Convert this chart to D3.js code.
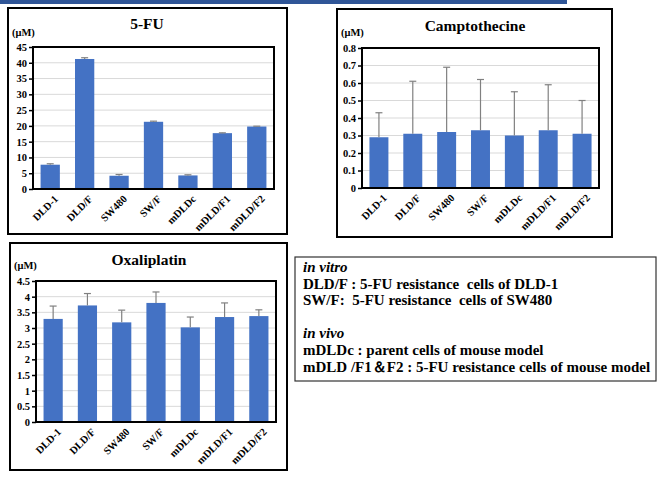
<!DOCTYPE html>
<html>
<head>
<meta charset="utf-8">
<script src="https://cdn.jsdelivr.net/npm/d3@7"></script>
<style>
  body { margin: 0; background: #fff; }
  svg { display: block; font-family: "Liberation Serif", "Times New Roman", serif; }
</style>
</head>
<body>
<div id="chart"></div>
<script>
// Cell lines shared by all three panels
const cells = ["DLD-1", "DLD/F", "SW480", "SW/F", "mDLDc", "mDLD/F1", "mDLD/F2"];

// IC50 values (µM) and error bars
const fuMean = [7.7, 41.2, 4.2, 21.3, 4.3, 17.7, 19.8];
const fuErr = [0.3, 0.4, 0.4, 0.2, 0.2, 0.1, 0.1];
const fuTicks = [0, 5, 10, 15, 20, 25, 30, 35, 40, 45];

const cptMean = [0.29, 0.31, 0.32, 0.33, 0.30, 0.33, 0.31];
const cptErr = [0.14, 0.30, 0.37, 0.29, 0.25, 0.26, 0.19];
const cptTicks = [0, 0.1, 0.2, 0.3, 0.4, 0.5, 0.6, 0.7, 0.8];

const oxaMean = [3.29, 3.72, 3.18, 3.80, 3.02, 3.35, 3.38];
const oxaErr = [0.41, 0.38, 0.39, 0.35, 0.33, 0.45, 0.20];
const oxaTicks = [0, 0.5, 1, 1.5, 2, 2.5, 3, 3.5, 4, 4.5];

// legend notes
const notes = [
    { text: "in vitro", italic: true },
    { text: "DLD/F : 5-FU resistance  cells of DLD-1" },
    { text: "SW/F:  5-FU resistance  cells of SW480" },
    { text: "" },
    { text: "in vivo", italic: true },
    { text: "mDLDc : parent cells of mouse model" },
    { text: "mDLD /F1\uFF06F2 : 5-FU resistance cells of mouse model" }
];

const width = 658, height = 478;
const barColor = "#4472c4";

const svg = d3.select("#chart")
    .append("svg")
    .attr("width", width)
    .attr("height", height);

// blue banner line at the very top
svg.append("rect")
    .attr("x", 0).attr("y", 0)
    .attr("width", 567).attr("height", 4)
    .attr("fill", "#2f5597");

function drawPanel(p) {
    const g = svg.append("g");

    // panel frame
    g.append("rect")
        .attr("x", p.box[0]).attr("y", p.box[1])
        .attr("width", p.box[2]).attr("height", p.box[3])
        .attr("fill", "#fff")
        .attr("stroke", "#000")
        .attr("stroke-width", 2);

    const xScale = d3.scaleBand()
        .domain(cells)
        .range([p.plot.left, p.plot.right])
        .paddingInner(0.44)
        .paddingOuter(0.22);

    const yScale = d3.scaleLinear()
        .domain([0, p.max])
        .range([p.plot.bottom, p.plot.top]);

    // gridlines
    g.append("g")
        .selectAll("line")
        .data(p.ticks.slice(1))
        .enter()
        .append("line")
        .attr("x1", p.plot.left)
        .attr("x2", p.plot.right)
        .attr("y1", d => yScale(d))
        .attr("y2", d => yScale(d))
        .attr("stroke", "#d9d9d9")
        .attr("stroke-width", 1);

    const rows = cells.map((c, i) => ({ cell: c, mean: p.mean[i], err: p.err[i] }));

    // bars
    g.append("g")
        .selectAll("rect")
        .data(rows)
        .enter()
        .append("rect")
        .attr("x", d => xScale(d.cell))
        .attr("y", d => yScale(d.mean))
        .attr("width", xScale.bandwidth())
        .attr("height", d => p.plot.bottom - yScale(d.mean))
        .attr("fill", barColor);

    // error bars (plus direction only)
    const eb = g.append("g")
        .attr("stroke", "#808080")
        .attr("stroke-width", 1.2);
    eb.selectAll("line.v")
        .data(rows)
        .enter()
        .append("line")
        .attr("class", "v")
        .attr("x1", d => xScale(d.cell) + xScale.bandwidth() / 2)
        .attr("x2", d => xScale(d.cell) + xScale.bandwidth() / 2)
        .attr("y1", d => yScale(d.mean))
        .attr("y2", d => yScale(d.mean + d.err));
    eb.selectAll("line.cap")
        .data(rows)
        .enter()
        .append("line")
        .attr("class", "cap")
        .attr("x1", d => xScale(d.cell) + xScale.bandwidth() / 2 - 3.5)
        .attr("x2", d => xScale(d.cell) + xScale.bandwidth() / 2 + 3.5)
        .attr("y1", d => yScale(d.mean + d.err))
        .attr("y2", d => yScale(d.mean + d.err));

    // plot area frame
    g.append("rect")
        .attr("x", p.plot.left).attr("y", p.plot.top)
        .attr("width", p.plot.right - p.plot.left)
        .attr("height", p.plot.bottom - p.plot.top)
        .attr("fill", "none")
        .attr("stroke", "#000")
        .attr("stroke-width", 2);

    // y axis
    const yAxis = g.append("g")
        .attr("transform", `translate(${p.plot.left},0)`)
        .call(d3.axisLeft(yScale).tickValues(p.ticks).tickSize(4).tickFormat(d => String(d)))
        .attr("font-family", "Liberation Serif, serif")
        .attr("font-size", 10.5)
        .attr("font-weight", "bold");
    yAxis.select(".domain").remove();
    yAxis.selectAll("line").attr("stroke", "#000").attr("stroke-width", 1.5);
    yAxis.selectAll("text")
        .attr("x", -6)
        .attr("fill", "#000");

    // x axis with rotated category labels
    const xAxis = g.append("g")
        .attr("transform", `translate(0,${p.plot.bottom})`)
        .call(d3.axisBottom(xScale).tickSize(0))
        .attr("font-family", "Liberation Serif, serif")
        .attr("font-size", 10.5)
        .attr("font-weight", "bold");
    xAxis.select(".domain").remove();
    xAxis.selectAll("text")
        .attr("transform", "translate(6,8) rotate(-45)")
        .attr("x", 0).attr("y", 0).attr("dy", "0.35em")
        .style("text-anchor", "end")
        .attr("fill", "#000");

    // title
    g.append("text")
        .attr("x", p.titleX)
        .attr("y", p.titleY)
        .style("text-anchor", "middle")
        .style("font-size", "15.5px")
        .style("font-weight", "bold")
        .text(p.title);

    // unit label
    g.append("text")
        .attr("x", p.unitX)
        .attr("y", p.unitY)
        .style("font-size", "10.5px")
        .style("font-weight", "bold")
        .text("(\u03BCM)");
}

drawPanel({
    title: "5-FU", mean: fuMean, err: fuErr, ticks: fuTicks, max: 45,
    box: [8, 8, 279, 226],
    plot: { left: 33, right: 274, top: 47, bottom: 189 },
    titleX: 147, titleY: 29, unitX: 12, unitY: 36
});

drawPanel({
    title: "Camptothecine", mean: cptMean, err: cptErr, ticks: cptTicks, max: 0.8,
    box: [337, 9, 275, 228],
    plot: { left: 362, right: 599, top: 48, bottom: 188 },
    titleX: 475, titleY: 31, unitX: 341, unitY: 36
});

drawPanel({
    title: "Oxaliplatin", mean: oxaMean, err: oxaErr, ticks: oxaTicks, max: 4.5,
    box: [10, 243, 277, 227],
    plot: { left: 36, right: 276, top: 281, bottom: 422 },
    titleX: 149, titleY: 265, unitX: 14, unitY: 269
});

// legend box with notes
svg.append("rect")
    .attr("x", 295).attr("y", 257)
    .attr("width", 361).attr("height", 124)
    .attr("fill", "#fff")
    .attr("stroke", "#333")
    .attr("stroke-width", 1.2);

svg.append("g")
    .selectAll("text")
    .data(notes)
    .enter()
    .append("text")
    .attr("x", 303)
    .attr("y", (d, i) => 272 + i * 16.6)
    .style("font-size", "15px")
    .style("font-weight", "bold")
    .style("font-style", d => d.italic ? "italic" : "normal")
    .style("white-space", "pre")
    .text(d => d.text);
</script>
</body>
</html>
